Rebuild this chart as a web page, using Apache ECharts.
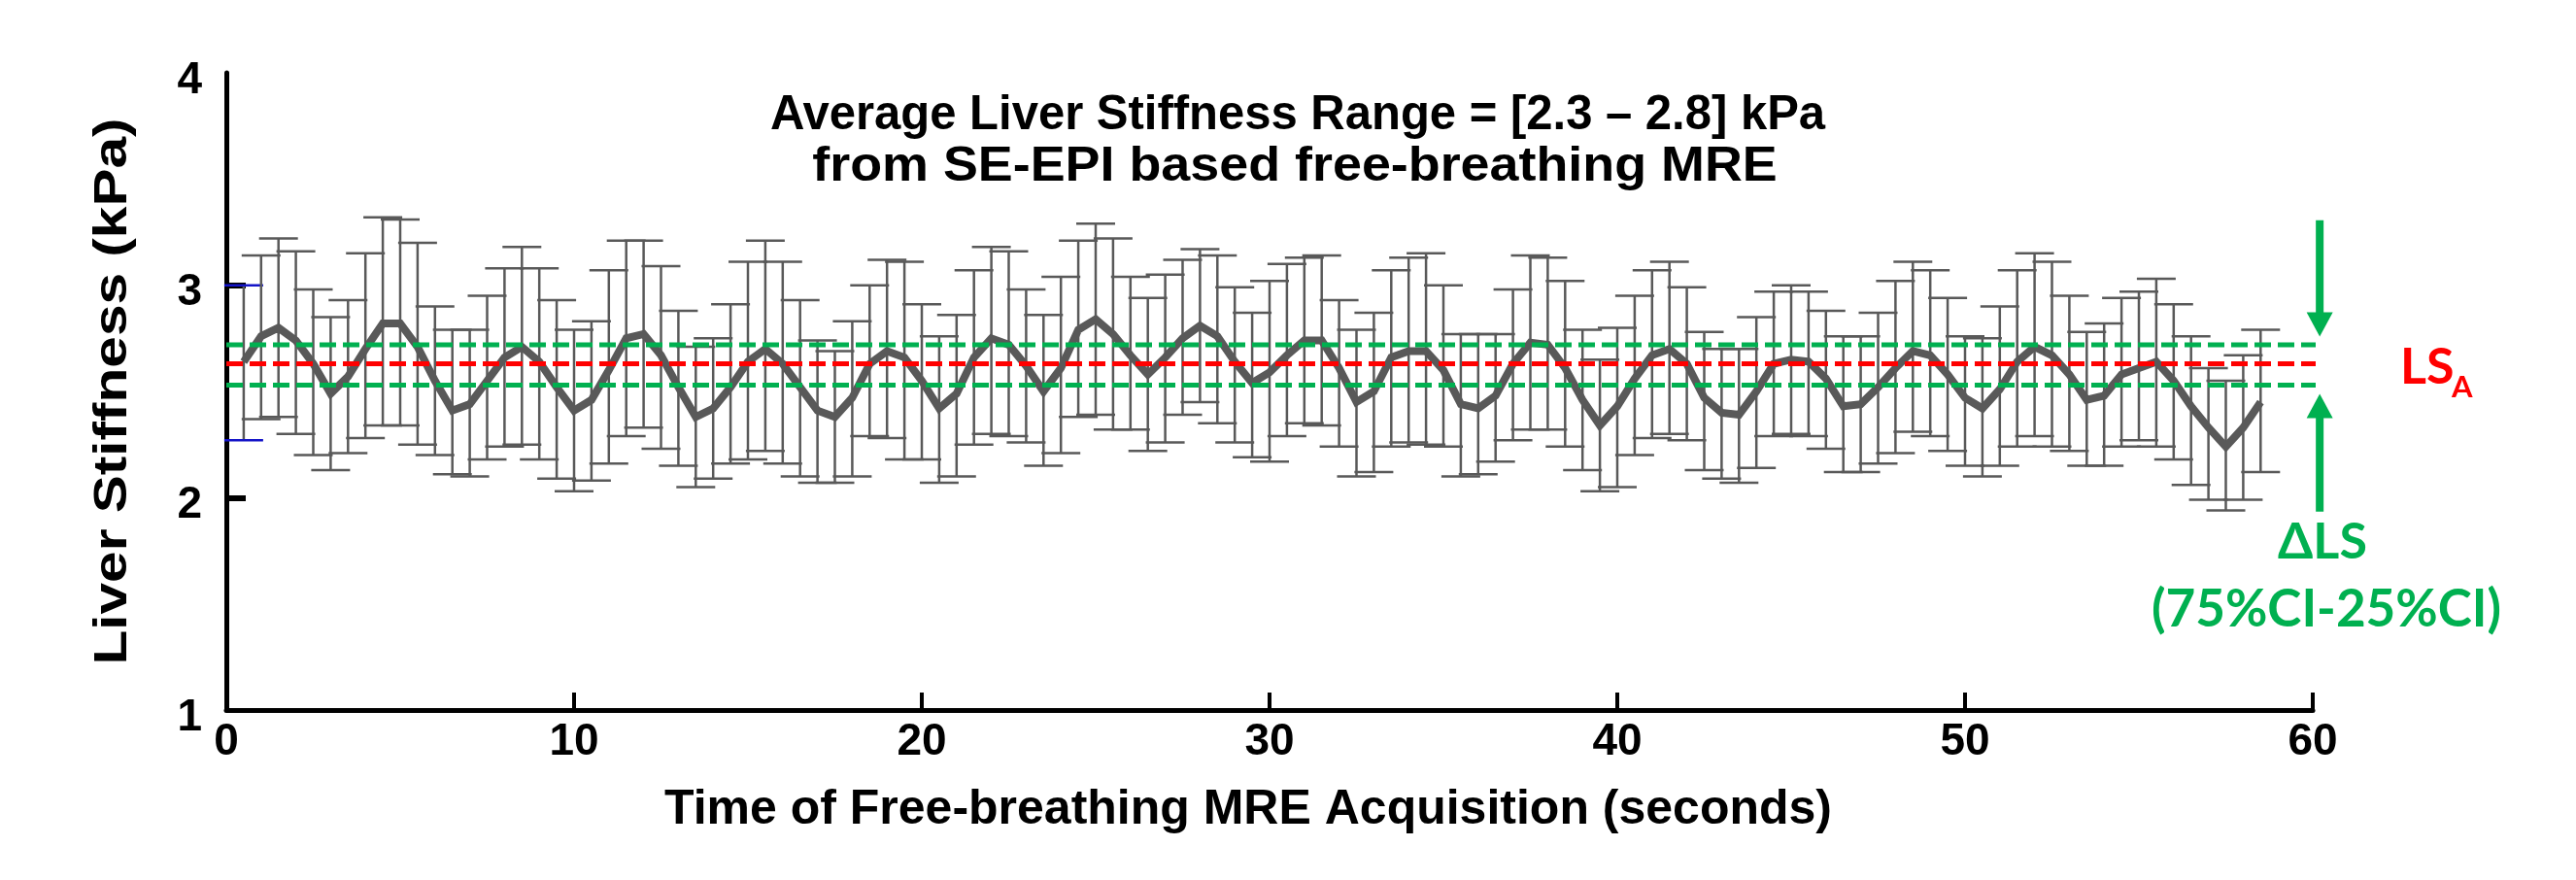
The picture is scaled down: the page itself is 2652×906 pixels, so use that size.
<!DOCTYPE html>
<html><head><meta charset="utf-8">
<script src="https://cdn.jsdelivr.net/npm/echarts@6/dist/echarts.min.js"></script>
<style>html,body{margin:0;padding:0;background:#fff}#c{width:2652px;height:906px}</style>
</head><body><div id="c"></div>
<script>
// time of each sample (seconds)
const times = [0.5,1,1.5,2,2.5,3,3.5,4,4.5,5,5.5,6,6.5,7,7.5,8,8.5,9,9.5,10,
 10.5,11,11.5,12,12.5,13,13.5,14,14.5,15,15.5,16,16.5,17,17.5,18,18.5,19,19.5,20,
 20.5,21,21.5,22,22.5,23,23.5,24,24.5,25,25.5,26,26.5,27,27.5,28,28.5,29,29.5,30,
 30.5,31,31.5,32,32.5,33,33.5,34,34.5,35,35.5,36,36.5,37,37.5,38,38.5,39,39.5,40,
 40.5,41,41.5,42,42.5,43,43.5,44,44.5,45,45.5,46,46.5,47,47.5,48,48.5,49,49.5,50,
 50.5,51,51.5,52,52.5,53,53.5,54,54.5,55,55.5,56,56.5,57,57.5,58,58.5];
// mean liver stiffness (kPa)
const meanLS = [2.64,2.76,2.80,2.74,2.63,2.49,2.57,2.70,2.82,2.82,
 2.71,2.55,2.41,2.44,2.55,2.66,2.71,2.64,2.52,2.41,
 2.46,2.60,2.75,2.77,2.67,2.52,2.38,2.42,2.52,2.64,
 2.70,2.63,2.52,2.41,2.38,2.47,2.63,2.69,2.66,2.55,
 2.42,2.49,2.66,2.75,2.72,2.62,2.50,2.61,2.79,2.84,
 2.77,2.67,2.58,2.66,2.75,2.81,2.76,2.64,2.54,2.59,
 2.67,2.74,2.74,2.61,2.45,2.50,2.66,2.69,2.69,2.60,
 2.44,2.42,2.48,2.63,2.73,2.72,2.61,2.46,2.34,2.43,
 2.56,2.67,2.70,2.63,2.47,2.40,2.39,2.50,2.63,2.65,
 2.64,2.56,2.43,2.44,2.52,2.61,2.69,2.67,2.58,2.47,
 2.42,2.51,2.64,2.71,2.67,2.58,2.46,2.48,2.58,2.61,
 2.64,2.55,2.43,2.33,2.24,2.33,2.45];
// error bar upper ends
const upperLS = [3.00,3.14,3.22,3.16,2.98,2.85,2.93,3.15,3.32,3.31,
 3.20,2.90,2.79,2.79,2.95,3.08,3.18,3.08,2.93,2.79,
 2.83,3.07,3.21,3.21,3.09,2.88,2.71,2.75,2.91,3.11,
 3.21,3.11,2.93,2.74,2.69,2.83,3.00,3.12,3.11,2.91,
 2.76,2.86,3.07,3.18,3.16,2.98,2.86,3.04,3.21,3.29,
 3.22,3.04,2.94,3.05,3.12,3.17,3.14,2.99,2.87,3.02,
 3.10,3.13,3.14,2.93,2.79,2.87,3.07,3.13,3.15,3.00,
 2.77,2.77,2.77,2.98,3.14,3.13,3.02,2.79,2.65,2.80,
 2.95,3.07,3.11,2.99,2.78,2.70,2.70,2.85,2.97,3.00,
 2.97,2.88,2.76,2.76,2.87,3.02,3.11,3.07,2.94,2.76,
 2.75,2.90,3.07,3.15,3.11,2.95,2.78,2.82,2.94,2.97,
 3.03,2.91,2.76,2.61,2.55,2.67,2.79];
// error bar lower ends
const lowerLS = [2.27,2.37,2.38,2.30,2.20,2.13,2.21,2.28,2.34,2.34,
 2.25,2.20,2.11,2.10,2.18,2.24,2.25,2.18,2.09,2.03,
 2.08,2.16,2.29,2.33,2.23,2.15,2.05,2.09,2.16,2.18,
 2.22,2.16,2.10,2.07,2.07,2.10,2.29,2.28,2.18,2.18,
 2.07,2.10,2.25,2.30,2.29,2.26,2.15,2.21,2.38,2.39,
 2.32,2.32,2.22,2.26,2.39,2.45,2.35,2.26,2.19,2.17,
 2.29,2.35,2.34,2.24,2.10,2.12,2.24,2.26,2.25,2.24,
 2.10,2.11,2.17,2.27,2.32,2.32,2.24,2.13,2.03,2.05,
 2.20,2.28,2.30,2.27,2.13,2.09,2.07,2.14,2.29,2.30,
 2.29,2.23,2.12,2.12,2.16,2.21,2.31,2.29,2.22,2.15,
 2.10,2.15,2.24,2.29,2.24,2.22,2.15,2.15,2.24,2.27,
 2.24,2.18,2.06,1.99,1.94,1.99,2.12];
// reference levels
const lsA = 2.63, ci75 = 2.72, ci25 = 2.53;
const refLineEnds = {ci75: 61.93, lsA: 61.65, ci25: 61.85};
// arrow annotations: [x, start, tip]
const arrowDefs = [[60.2, 3.306, 2.758], [60.2, 1.934, 2.488]];
const xTicks = [0, 10, 20, 30, 40, 50, 60];
const yTicks = [1, 2, 3, 4];

const GRAY = '#595959', GREEN = '#00B050', RED = '#FF0000';
const lineData = times.map((t, i) => [t, meanLS[i]]);
const barData = times.map((t, i) => [t, lowerLS[i], upperLS[i]]);

const chart = echarts.init(document.getElementById('c'), null, {renderer: 'canvas'});
const AF = '"Liberation Sans", Arial, sans-serif';
const CF = 'Lato, "Open Sans", sans-serif';

chart.setOption({
  animation: false,
  backgroundColor: '#fff',
  grid: {left: 233, right: 271, top: 75, bottom: 175},
  xAxis: {
    type: 'value', min: xTicks[0], max: xTicks[xTicks.length - 1], interval: 10,
    axisLine: {onZero: false, lineStyle: {color: '#000', width: 5}},
    axisTick: {inside: true, length: 18, lineStyle: {color: '#000', width: 4}},
    axisLabel: {fontFamily: AF, fontWeight: 'bold', fontSize: 46, color: '#000', margin: 10},
    splitLine: {show: false}
  },
  yAxis: {
    type: 'value', min: yTicks[0], max: yTicks[yTicks.length - 1], interval: 1,
    axisLine: {show: true, lineStyle: {color: '#000', width: 5}},
    axisTick: {show: true, inside: true, length: 20, customValues: [2, 3], lineStyle: {color: '#000', width: 6}},
    axisLabel: {show: false},
    splitLine: {show: false}
  },
  series: [
    {
      // y tick labels, placed through the y scale (slightly below each tick as in the source)
      type: 'custom', name: 'ylabels', z: 6, clip: false, silent: true,
      encode: {y: 0},
      data: yTicks.map(v => [v]),
      renderItem: function (params, api) {
        const v = api.value(0);
        const p = api.coord([0, v]);
        return {type: 'text', x: p[0] - 25, y: p[1] + 8, style: {text: String(v), font: 'bold 46px ' + AF, fill: '#000', align: 'right', verticalAlign: 'middle'}};
      }
    },
    {
      type: 'custom', name: 'errorbars', z: 2,
      encode: {x: 0, y: [1, 2]},
      data: barData,
      renderItem: function (params, api) {
        const x = api.value(0);
        const pLo = api.coord([x, api.value(1)]);
        const pHi = api.coord([x, api.value(2)]);
        const hw = 20;
        const capColor = params.dataIndex === 0 ? '#1414C8' : GRAY;
        return {type: 'group', children: [
          {type: 'line', shape: {x1: pHi[0], y1: pHi[1], x2: pLo[0], y2: pLo[1]}, style: {stroke: GRAY, lineWidth: 2.5}},
          {type: 'line', shape: {x1: pHi[0] - hw, y1: pHi[1], x2: pHi[0] + hw, y2: pHi[1]}, style: {stroke: capColor, lineWidth: 2.5}},
          {type: 'line', shape: {x1: pLo[0] - hw, y1: pLo[1], x2: pLo[0] + hw, y2: pLo[1]}, style: {stroke: capColor, lineWidth: 2.5}}
        ]};
      }
    },
    {
      type: 'line', name: 'mean', z: 3, data: lineData, symbol: 'none',
      lineStyle: {color: GRAY, width: 8, join: 'miter'}
    },
    {
      type: 'line', name: 'ci75', z: 4, clip: false, symbol: 'none',
      data: [[0, ci75], [refLineEnds.ci75, ci75]],
      lineStyle: {color: GREEN, width: 5, type: [17, 7]}
    },
    {
      type: 'line', name: 'lsA', z: 4, clip: false, symbol: 'none',
      data: [[0, lsA], [refLineEnds.lsA, lsA]],
      lineStyle: {color: RED, width: 5, type: [17, 7]}
    },
    {
      type: 'line', name: 'ci25', z: 4, clip: false, symbol: 'none',
      data: [[0, ci25], [refLineEnds.ci25, ci25]],
      lineStyle: {color: GREEN, width: 5, type: [17, 7]}
    },
    {
      type: 'custom', name: 'arrows', z: 5, clip: false,
      encode: {x: 0, y: [1, 2]},
      data: arrowDefs,
      renderItem: function (params, api) {
        const x = api.value(0);
        const p0 = api.coord([x, api.value(1)]);
        const p1 = api.coord([x, api.value(2)]);
        const dir = p1[1] > p0[1] ? 1 : -1;
        const hl = 25, hw = 13.5;
        const by = p1[1] - dir * hl;
        return {type: 'group', children: [
          {type: 'line', shape: {x1: p0[0], y1: p0[1], x2: p0[0], y2: by + dir * 1}, style: {stroke: GREEN, lineWidth: 8}},
          {type: 'polygon', shape: {points: [[p1[0], p1[1]], [p1[0] - hw, by], [p1[0] + hw, by]]}, style: {fill: GREEN}}
        ]};
      }
    }
  ],
  graphic: [
    {type: 'text', x: 1336, y: 119, z: 10, scaleX: 0.98, style: {text: 'Average Liver Stiffness Range = [2.3 \u2013 2.8] kPa', font: 'bold 50px ' + AF, fill: '#000', align: 'center', verticalAlign: 'middle'}},
    {type: 'text', x: 1333, y: 172, z: 10, scaleX: 1.077, style: {text: 'from SE-EPI based free-breathing MRE', font: 'bold 50px ' + AF, fill: '#000', align: 'center', verticalAlign: 'middle'}},
    {type: 'text', x: 1285, y: 834, z: 10, style: {text: 'Time of Free-breathing MRE Acquisition (seconds)', font: 'bold 50px ' + AF, fill: '#000', align: 'center', verticalAlign: 'middle'}},
    {type: 'text', x: 117, y: 403, z: 10, rotation: Math.PI / 2, scaleX: 1.22, style: {text: 'Liver Stiffness (kPa)', font: 'bold 48px ' + AF, fill: '#000', align: 'center', verticalAlign: 'middle'}},
    {type: 'text', x: 2471, y: 378, z: 10, style: {text: 'LS', font: 'bold 52px ' + CF, fill: RED, align: 'left', verticalAlign: 'middle'}},
    {type: 'text', x: 2524, y: 399, z: 10, style: {text: 'A', font: 'bold 31px ' + CF, fill: RED, align: 'left', verticalAlign: 'middle'}},
    {type: 'text', x: 2391, y: 558, z: 10, style: {text: '\u0394LS', font: 'bold 52px ' + CF, fill: GREEN, align: 'center', verticalAlign: 'middle'}},
    {type: 'text', x: 2395, y: 628, z: 10, style: {text: '(75%CI-25%CI)', font: 'bold 53px ' + CF, fill: GREEN, align: 'center', verticalAlign: 'middle'}}
  ]
});
</script>
</body></html>
